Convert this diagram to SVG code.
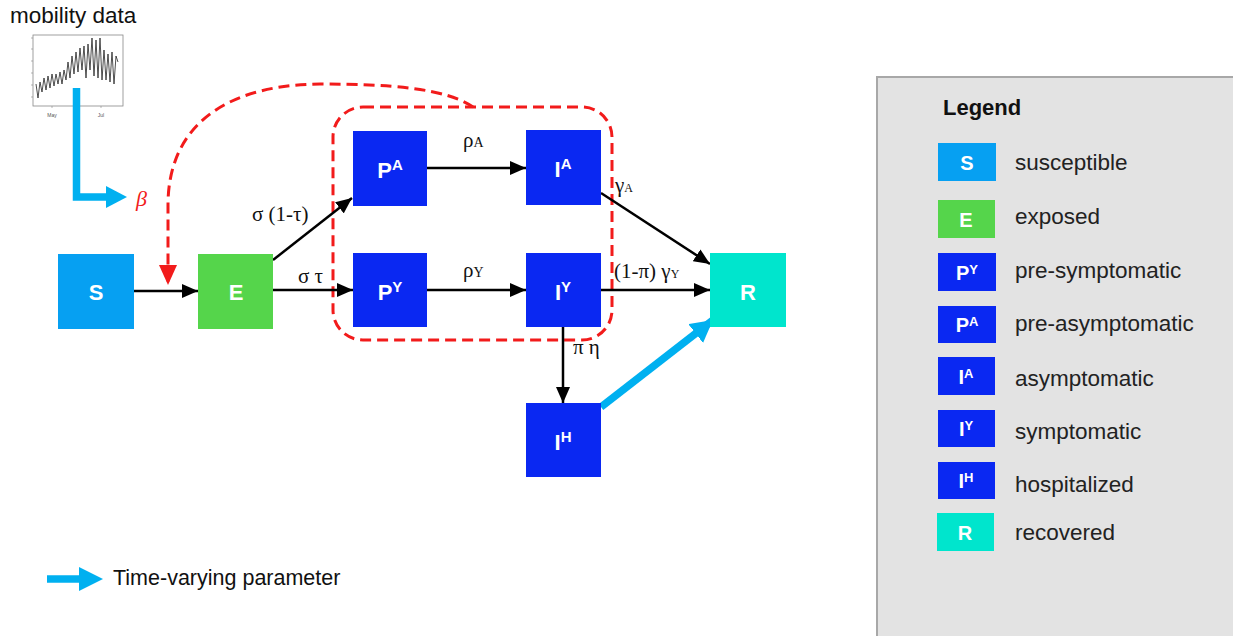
<svg xmlns="http://www.w3.org/2000/svg" width="1233" height="636" viewBox="0 0 1233 636">
<style>
.node text, .leg text.sw {font-family:"Liberation Sans",Arial,sans-serif;font-weight:bold;fill:#fff;text-anchor:middle}
.lbl {font-family:"Liberation Serif","Times New Roman",serif;font-size:21px;fill:#111}
.legt {font-family:"Liberation Sans",Arial,sans-serif;font-size:22.5px;fill:#222}
.blk {stroke:#000;stroke-width:2.5;fill:none}
.red {stroke:#f21b1b;stroke-width:3;fill:none;stroke-dasharray:11 6}
.blu {stroke:#00b0f0;stroke-width:7.5;fill:none}
</style>
<defs>
<marker id="ah" markerUnits="userSpaceOnUse" markerWidth="16" markerHeight="14" refX="16" refY="7" orient="auto"><path d="M0,0 L16,7 L0,14 z" fill="#000"/></marker>
<marker id="ahr" markerUnits="userSpaceOnUse" markerWidth="20" markerHeight="18" refX="20" refY="9" orient="auto"><path d="M0,0 L20,9 L0,18 z" fill="#f21b1b"/></marker>
<marker id="ahb" markerUnits="userSpaceOnUse" markerWidth="22" markerHeight="24" refX="22" refY="12" orient="auto"><path d="M0,0 L22,12 L0,24 z" fill="#00b0f0"/></marker>
</defs>
<rect width="1233" height="636" fill="#fff"/>

<!-- mobility data -->
<g id="mobility">
<text x="10" y="23" font-family="Liberation Sans,Arial,sans-serif" font-size="22.5" fill="#111">mobility data</text>
<rect x="33" y="35" width="90" height="71" fill="#fff" stroke="#888" stroke-width="0.8"/>
<g stroke="#888" stroke-width="0.6">
<line x1="31" y1="38" x2="33" y2="38"/><line x1="31" y1="49" x2="33" y2="49"/><line x1="31" y1="61" x2="33" y2="61"/><line x1="31" y1="73" x2="33" y2="73"/><line x1="31" y1="85" x2="33" y2="85"/><line x1="31" y1="97" x2="33" y2="97"/>
<line x1="52" y1="106" x2="52" y2="108"/><line x1="101" y1="106" x2="101" y2="108"/>
</g>
<polyline fill="none" stroke="#222" stroke-width="0.8" points="36,84 38,98 40,82 42,92 44,78 46,90 48,76 50,88 52,74 54,86 56,74 58,84 60,72 62,84 64,70 66,80 68,62 70,78 72,56 74,74 76,52 78,72 80,48 82,70 84,46 86,78 88,44 90,70 92,38 94,76 96,40 98,78 100,38 102,80 104,50 106,80 108,54 110,82 112,52 114,84 116,56 118,62"/>
<text x="52" y="117" font-family="Liberation Sans,Arial,sans-serif" font-size="5" fill="#555" text-anchor="middle">May</text>
<text x="101" y="117" font-family="Liberation Sans,Arial,sans-serif" font-size="5" fill="#555" text-anchor="middle">Jul</text>
</g>

<!-- connectors -->
<g id="connectors">
<path class="blu" d="M76.5,88 L76.5,197 L106,197"/>
<path d="M106,186 L127,197 L106,208 z" fill="#00b0f0"/>
<text x="136" y="206" font-family="Liberation Serif,serif" font-style="italic" font-size="22" fill="#f21b1b">β</text>
<path class="red" d="M473,107 C445,88 390,84 320,84 C220,85 168,130 168,205 L168,285" marker-end="url(#ahr)"/>
<rect class="red" x="333" y="107" width="279" height="233" rx="30" ry="30"/>
<line class="blk" x1="134" y1="291" x2="198" y2="291" stroke-width="3.5" marker-end="url(#ah)"/>
<line class="blk" x1="273" y1="290" x2="353" y2="290" marker-end="url(#ah)"/>
<line class="blk" x1="273" y1="260" x2="352" y2="198" marker-end="url(#ah)"/>
<line class="blk" x1="427" y1="168" x2="526" y2="168" marker-end="url(#ah)"/>
<line class="blk" x1="427" y1="290" x2="526" y2="290" marker-end="url(#ah)"/>
<line class="blk" x1="601" y1="193" x2="710" y2="264" marker-end="url(#ah)"/>
<line class="blk" x1="601" y1="290" x2="710" y2="290" marker-end="url(#ah)"/>
<line class="blk" x1="563" y1="327" x2="563" y2="403" marker-end="url(#ah)"/>
<line class="blu" x1="601" y1="407" x2="713" y2="320" marker-end="url(#ahb)"/>
<text class="lbl" x="252" y="221">σ (1-τ)</text>
<text class="lbl" x="298" y="283">σ τ</text>
<text class="lbl" x="463" y="147">ρ<tspan font-size="14">A</tspan></text>
<text class="lbl" x="463" y="277">ρ<tspan font-size="14">Y</tspan></text>
<text class="lbl" x="615" y="192">γ<tspan font-size="12">A</tspan></text>
<text class="lbl" x="614" y="278">(1-π) γ<tspan font-size="12">Y</tspan></text>
<text class="lbl" x="573" y="354">π η</text>
</g>

<!-- nodes -->
<g id="S" class="node"><rect x="58" y="254" width="76" height="75" fill="#06a0f2"/><text x="96" y="300" font-size="22">S</text></g>
<g id="E" class="node"><rect x="198" y="254" width="75" height="75" fill="#55d54b"/><text x="236" y="300" font-size="22">E</text></g>
<g id="PA" class="node"><rect x="353" y="131" width="74" height="75" fill="#0a28f2"/><text x="390" y="178" font-size="22">P<tspan dy="-8" font-size="15">A</tspan></text></g>
<g id="IA" class="node"><rect x="526" y="130" width="75" height="75" fill="#0a28f2"/><text x="563" y="177" font-size="22">I<tspan dy="-8" font-size="15">A</tspan></text></g>
<g id="PY" class="node"><rect x="353" y="253" width="74" height="74" fill="#0a28f2"/><text x="390" y="300" font-size="22">P<tspan dy="-8" font-size="15">Y</tspan></text></g>
<g id="IY" class="node"><rect x="526" y="253" width="75" height="74" fill="#0a28f2"/><text x="563" y="300" font-size="22">I<tspan dy="-8" font-size="15">Y</tspan></text></g>
<g id="IH" class="node"><rect x="526" y="403" width="75" height="74" fill="#0a28f2"/><text x="563" y="450" font-size="22">I<tspan dy="-8" font-size="15">H</tspan></text></g>
<g id="R" class="node"><rect x="710" y="253" width="76" height="74" fill="#00e5cd"/><text x="748" y="300" font-size="22">R</text></g>

<!-- time varying legend -->
<g id="tv">
<line class="blu" x1="47" y1="579" x2="82" y2="579"/>
<path d="M79,567 L103,579 L79,591 z" fill="#00b0f0"/>
<text x="113" y="585" font-family="Liberation Sans,Arial,sans-serif" font-size="21.5" fill="#111">Time-varying parameter</text>
</g>

<!-- legend -->
<g id="legend" class="leg">
<rect x="877" y="77" width="370" height="580" fill="#e3e3e3" stroke="#a8a8a8" stroke-width="2"/>
<text x="943" y="115" font-family="Liberation Sans,Arial,sans-serif" font-size="22" font-weight="bold" fill="#111">Legend</text>
<rect x="938" y="143" width="58" height="38" fill="#06a0f2"/><text class="sw" x="967" y="170" font-size="20">S</text>
<text class="legt" x="1015" y="170">susceptible</text>
<rect x="938" y="200" width="57" height="38" fill="#55d54b"/><text class="sw" x="966" y="227" font-size="20">E</text>
<text class="legt" x="1015" y="224">exposed</text>
<rect x="938" y="253" width="58" height="38" fill="#0a28f2"/><text class="sw" x="967" y="280" font-size="20">P<tspan dy="-6" font-size="13">Y</tspan></text>
<text class="legt" x="1015" y="278">pre-symptomatic</text>
<rect x="938" y="306" width="58" height="37" fill="#0a28f2"/><text class="sw" x="967" y="332" font-size="20">P<tspan dy="-6" font-size="13">A</tspan></text>
<text class="legt" x="1015" y="331">pre-asymptomatic</text>
<rect x="938" y="357" width="57" height="38" fill="#0a28f2"/><text class="sw" x="966" y="384" font-size="20">I<tspan dy="-6" font-size="13">A</tspan></text>
<text class="legt" x="1015" y="386">asymptomatic</text>
<rect x="938" y="410" width="57" height="37" fill="#0a28f2"/><text class="sw" x="966" y="436" font-size="20">I<tspan dy="-6" font-size="13">Y</tspan></text>
<text class="legt" x="1015" y="439">symptomatic</text>
<rect x="938" y="462" width="57" height="37" fill="#0a28f2"/><text class="sw" x="966" y="488" font-size="20">I<tspan dy="-6" font-size="13">H</tspan></text>
<text class="legt" x="1015" y="492">hospitalized</text>
<rect x="937" y="513" width="57" height="38" fill="#00e5cd"/><text class="sw" x="965" y="540" font-size="20">R</text>
<text class="legt" x="1015" y="540">recovered</text>
</g>
</svg>
